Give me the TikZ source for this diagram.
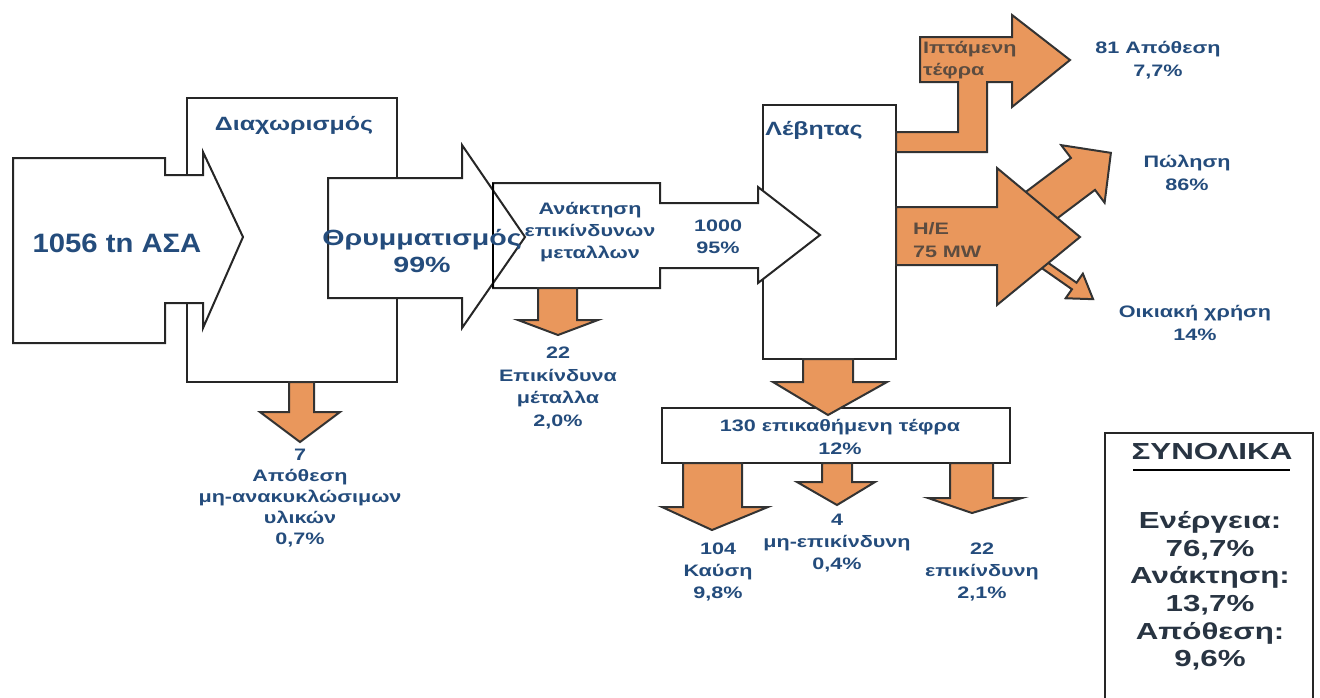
\documentclass[tikz,border=0pt]{standalone}
\usepackage{fontspec}
\usepackage{tikz}
\newfontfamily\lblfont{Liberation Sans}[FakeStretch=1.3]
\newfontfamily\bigfont{Liberation Sans}[FakeStretch=1.1]
\newfontfamily\sumfont{Liberation Sans}[FakeStretch=1.35]
\definecolor{flowor}{RGB}{233,151,92}
\definecolor{lblblue}{RGB}{36,76,124}
\definecolor{sumgrey}{RGB}{40,52,66}
\definecolor{ontext}{RGB}{92,76,64}
\tikzset{every picture/.style={line width=1pt},
  stage/.style={draw=black!85,fill=white,line join=miter},
  flow/.style={draw=black!80,fill=flowor,line join=miter},
  lbl/.style={text=lblblue,font=\lblfont\bfseries\fontsize{8.3}{11.2}\selectfont,align=center,inner sep=0pt},
  midlbl/.style={lbl,font=\lblfont\bfseries\fontsize{9.6}{12}\selectfont},
  onflow/.style={lbl,text=ontext,align=left,anchor=west},
  sumlbl/.style={text=sumgrey,font=\sumfont\bfseries\fontsize{11.6}{13.8}\selectfont,align=center,inner sep=0pt}}

\begin{document}
\begin{tikzpicture}[x=0.5pt,y=-0.5pt]
\useasboundingbox (0,0) rectangle (1320,697);
% separation stage and incoming waste
\draw[stage] (187,98) rectangle (397,382);
\draw[stage] (13,158) -- (165,158) -- (165,175) -- (203,175) -- (203,152) -- (243,237) -- (203,328) -- (203,303) -- (165,303) -- (165,343) -- (13,343) -- cycle;
\draw[flow] (289,382) -- (289,412) -- (260,412) -- (300,442) -- (340,412) -- (314,412) -- (314,382) -- cycle;
% boiler, metals recovery, shredding
\draw[stage] (763,105) rectangle (896,359);
\draw[stage] (493,183) -- (660,183) -- (660,203) -- (758,203) -- (758,187) -- (820,235) -- (758,283) -- (758,268) -- (660,268) -- (660,288) -- (493,288) -- cycle;
\draw[stage] (328,178) -- (462,178) -- (462,145) -- (525,237) -- (462,328) -- (462,298) -- (328,298) -- cycle;
\draw (493,183) -- (493,288);
\draw[flow] (538,288) -- (538,320) -- (518,320) -- (558,335) -- (598,320) -- (577,320) -- (577,288) -- cycle;
% fly ash
\draw[flow] (896,132) -- (958,132) -- (958,82) -- (920,82) -- (920,37) -- (1012,37) -- (1012,15) -- (1070,60) -- (1012,107) -- (1012,82) -- (987,82) -- (987,152) -- (896,152) -- cycle;
% electricity split
\begin{scope}[shift={(1043,204)},rotate=37]
\draw[flow] (-25,-20) -- (50,-20) -- (50,-36) -- (85,0) -- (50,36) -- (50,20) -- (-25,20) -- cycle;
\end{scope}
\begin{scope}[shift={(1030,255)},rotate=-35]
\draw[flow] (0,-4) -- (54,-4) -- (54,-15) -- (77,0) -- (54,15) -- (54,4) -- (0,4) -- cycle;
\end{scope}
\draw[flow] (896,207) -- (997,207) -- (997,168) -- (1080,237) -- (997,305) -- (997,265) -- (896,265) -- cycle;
% bottom ash
\draw[stage] (662,408) rectangle (1010,463);
\draw[flow] (803,359) -- (803,382) -- (773,382) -- (828,415) -- (887,382) -- (853,382) -- (853,359) -- cycle;
\draw[flow] (683,463) -- (683,507) -- (662,507) -- (712,530) -- (768,507) -- (742,507) -- (742,463) -- cycle;
\draw[flow] (822,463) -- (822,482) -- (797,482) -- (837,505) -- (875,482) -- (852,482) -- (852,463) -- cycle;
\draw[flow] (950,463) -- (950,498) -- (928,498) -- (972,513) -- (1022,498) -- (993,498) -- (993,463) -- cycle;
% totals
\draw[stage] (1105,705) -- (1105,433) -- (1313,433) -- (1313,705);
\draw (1133,470) -- (1290,470);

\node[text=lblblue,font=\bigfont\bfseries\fontsize{13.3}{16}\selectfont,inner sep=0pt] (asa) at (117,243) {1056 tn ΑΣΑ};
\node[midlbl] (sep) at (294,125) {Διαχωρισμός};
\node[midlbl,font=\lblfont\bfseries\fontsize{11}{13.5}\selectfont] (shred) at (422,251) {Θρυμματισμός\\99\%};
\node[lbl] (acq) at (590,232) {Ανάκτηση\\επικίνδυνων\\μεταλλων};
\node[lbl] (feed) at (718,237) {1000\\95\%};
\node[lbl] (metals) at (558,388) {22\\Επικίνδυνα\\μέταλλα\\2,0\%};
\node[lbl,font=\lblfont\bfseries\fontsize{8.3}{10.5}\selectfont] (reject) at (300,498) {7\\Απόθεση\\μη-ανακυκλώσιμων\\υλικών\\0,7\%};
\node[midlbl] (boiler) at (814,130) {Λέβητας};
\node[onflow] (fly) at (922,60) {Ιπτάμενη\\τέφρα};
\node[onflow] (power) at (912,240) {Η/Ε\\75 MW};
\node[lbl] (flyout) at (1158,60) {81 Απόθεση\\7,7\%};
\node[lbl] (sale) at (1187,173) {Πώληση\\86\%};
\node[lbl] (home) at (1195,323) {Οικιακή χρήση\\14\%};
\node[lbl] (ash) at (840,437) {130 επικαθήμενη τέφρα\\12\%};
\node[lbl] (burn) at (718,572) {104\\Καύση\\9,8\%};
\node[lbl] (nonhaz) at (837,543) {4\\μη-επικίνδυνη\\0,4\%};
\node[lbl] (haz) at (982,572) {22\\επικίνδυνη\\2,1\%};
\node[sumlbl] (sumhead) at (1212,452) {ΣΥΝΟΛΙΚΑ};
\node[sumlbl] (sums) at (1210,591) {Ενέργεια:\\76,7\%\\Ανάκτηση:\\13,7\%\\Απόθεση:\\9,6\%};
\end{tikzpicture}
\end{document}
